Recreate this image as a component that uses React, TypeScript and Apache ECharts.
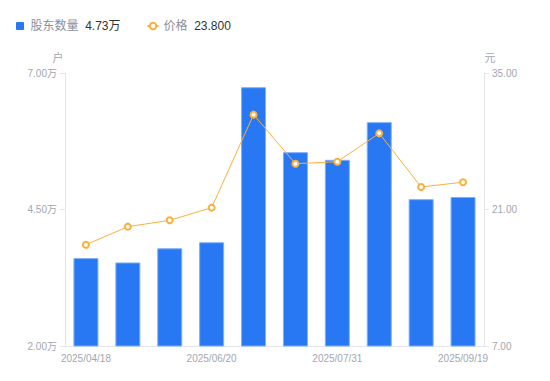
import React, { useEffect, useRef } from "react";
import * as echarts from "echarts";

const categories = [
  "2025/04/18", "2025/05/09", "2025/05/30", "2025/06/20", "2025/06/30",
  "2025/07/18", "2025/07/31", "2025/08/29", "2025/09/10", "2025/09/19",
];
const holders = [36100, 35300, 37900, 39000, 67400, 55500, 54100, 61000, 46900, 47300];
const prices = [17.39, 19.24, 19.89, 21.19, 30.73, 25.7, 25.9, 28.81, 23.31, 23.8];
const leftTicks = [20000, 45000, 70000];
const rightTicks = [7, 21, 35];

const FONT = 'Arial, "Liberation Sans", "Noto Sans CJK SC", sans-serif';
const BLUE = "#2878F4";
const ORANGE = "#FBB03B";
const GRAY_TEXT = "#A3A6B1";
const AXIS_LINE = "#E4E6EB";

export default function App() {
  const ref = useRef<HTMLDivElement>(null);
  useEffect(() => {
    if (!ref.current) return;
    const chart = echarts.init(ref.current, undefined, { renderer: "svg" });
    const lastH = holders[holders.length - 1];
    const lastP = prices[prices.length - 1];
    chart.setOption({
      animation: false,
      textStyle: { fontFamily: FONT },
      legend: {
        left: 11,
        top: 15,
        itemGap: 26,
        itemWidth: 11,
        itemHeight: 8,
        data: [
          {
            name: "股东数量",
            icon: "path://M1 0h6a1 1 0 0 1 1 1v6a1 1 0 0 1-1 1h-6a1 1 0 0 1-1-1v-6a1 1 0 0 1 1-1z",
            itemStyle: { color: BLUE, borderWidth: 0 },
          },
          { name: "价格" },
        ],
        formatter: (name: string) =>
          name === "股东数量"
            ? `{a|${name}}  {b|${(lastH / 10000).toFixed(2)}万}`
            : `{a|${name}}  {b|${lastP.toFixed(3)}}`,
        textStyle: {
          fontFamily: FONT,
          rich: {
            a: { fontSize: 12, color: "#8C8F99", fontFamily: FONT },
            b: { fontSize: 12, color: "#333333", fontFamily: FONT },
          },
        },
      },
      grid: { left: 65, right: 66, top: 73, bottom: 35, containLabel: false },
      xAxis: {
        type: "category",
        data: categories,
        boundaryGap: true,
        axisLine: { lineStyle: { color: AXIS_LINE } },
        axisTick: { show: false },
        axisLabel: { interval: 2, color: GRAY_TEXT, fontSize: 10, margin: 7, fontFamily: FONT },
      },
      yAxis: [
        {
          type: "value",
          name: "户",
          nameLocation: "end",
          nameGap: 10,
          nameTextStyle: { color: GRAY_TEXT, fontSize: 11, padding: [0, 14, 0, 0], fontFamily: FONT },
          min: 20000,
          max: 70000,
          splitLine: { show: false },
          axisLine: { show: true, lineStyle: { color: AXIS_LINE } },
          axisTick: { show: true, length: 5, lineStyle: { color: AXIS_LINE }, customValues: leftTicks },
          axisLabel: {
            color: GRAY_TEXT,
            fontSize: 10,
            margin: 8,
            fontFamily: FONT,
            customValues: leftTicks,
            formatter: (v: number) => (v / 10000).toFixed(2) + "万",
          },
        },
        {
          type: "value",
          name: "元",
          nameLocation: "end",
          nameGap: 10,
          nameTextStyle: { color: GRAY_TEXT, fontSize: 11, padding: [0, 0, 0, 12], fontFamily: FONT },
          min: 7,
          max: 35,
          splitLine: { show: false },
          axisLine: { show: true, lineStyle: { color: AXIS_LINE } },
          axisTick: { show: true, length: 5, lineStyle: { color: AXIS_LINE }, customValues: rightTicks },
          axisLabel: {
            color: GRAY_TEXT,
            fontSize: 10,
            margin: 8,
            fontFamily: FONT,
            customValues: rightTicks,
            formatter: (v: number) => v.toFixed(2),
          },
        },
      ],
      series: [
        {
          name: "股东数量",
          type: "bar",
          yAxisIndex: 0,
          data: holders,
          barWidth: 25,
          itemStyle: { color: BLUE, borderColor: "#7EAFF8", borderWidth: 1 },
        },
        {
          name: "价格",
          type: "line",
          yAxisIndex: 1,
          data: prices,
          symbol: "circle",
          symbolSize: 6,
          lineStyle: { color: ORANGE, width: 1 },
          itemStyle: { color: "#ffffff", borderColor: ORANGE, borderWidth: 2 },
        },
      ],
    });
    return () => chart.dispose();
  }, []);
  return (
    <div
      ref={ref}
      style={{ position: "absolute", left: 0, top: 0, width: 550, height: 381 }}
    />
  );
}
